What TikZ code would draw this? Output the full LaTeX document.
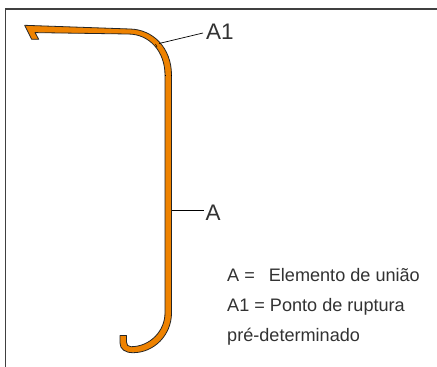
\documentclass[tikz,border=0pt]{standalone}
\usepackage{fontspec}
\setmainfont{Liberation Sans}
\definecolor{strip}{RGB}{238,130,0}
\definecolor{txt}{RGB}{50,50,50}
\tikzset{
  frame/.style={draw=black!75,line width=1.6pt},
  leader/.style={draw=black,line width=0.7pt},
  big/.style={font=\fontsize{22.5}{27}\selectfont,text=txt,inner sep=0pt,anchor=base west},
  small/.style={font=\fontsize{18.1}{21}\selectfont,text=txt,inner sep=0pt,anchor=base west},
}
\begin{document}
\begin{tikzpicture}[x=1pt,y=-1pt]
\useasboundingbox (0,0) rectangle (437,367);
\fill[white] (0,0) rectangle (437,367);
\draw[frame] (5.6,367) -- (5.6,8.8) -- (437,8.8);
\draw[draw=black!85,line width=0.8pt,fill=strip,line join=round]
  (24.7,25.3) -- (130,29)
  .. controls (153,29.5) and (171.5,48) .. (171.5,75)
  -- (171.5,313)
  .. controls (171.5,335) and (154,352.7) .. (133,352.7)
  .. controls (125,352.7) and (120,349) .. (120,343)
  -- (120,335.4) -- (126.5,335.4) -- (126.5,342)
  .. controls (126.5,345) and (128,346.7) .. (131,346.7)
  .. controls (150,346.7) and (165,331) .. (165,313)
  -- (165,75)
  .. controls (165,52) and (150,34) .. (128,34)
  -- (35,32.6) -- (38.7,39.3) -- (31.7,39.3) -- cycle;
\node[big] (a1) at (206,39) {A1};
\node[big] (a) at (205.5,220) {A};
\coordinate (b1) at (159,43.5);
\coordinate (e1) at (203,33);
\coordinate (b2) at (171.5,210);
\coordinate (e2) at (204,210);
\draw[leader] (b1) -- (e1);
\draw[leader] (b2) -- (e2);
\draw[black,line width=0.6pt] (155.5,44) -- (157,47);
\draw[black,line width=0.8pt] (164.5,75) -- (166,75) (170.5,75) -- (172,75);
\node[small] (l1) at (227,281.7) {A =\hspace{9pt} Elemento de união};
\node[small] (l2) at (227,311.7) {A1 = Ponto de ruptura};
\node[small] (l3) at (227,341.7) {pré-determinado};
\end{tikzpicture}
\end{document}
